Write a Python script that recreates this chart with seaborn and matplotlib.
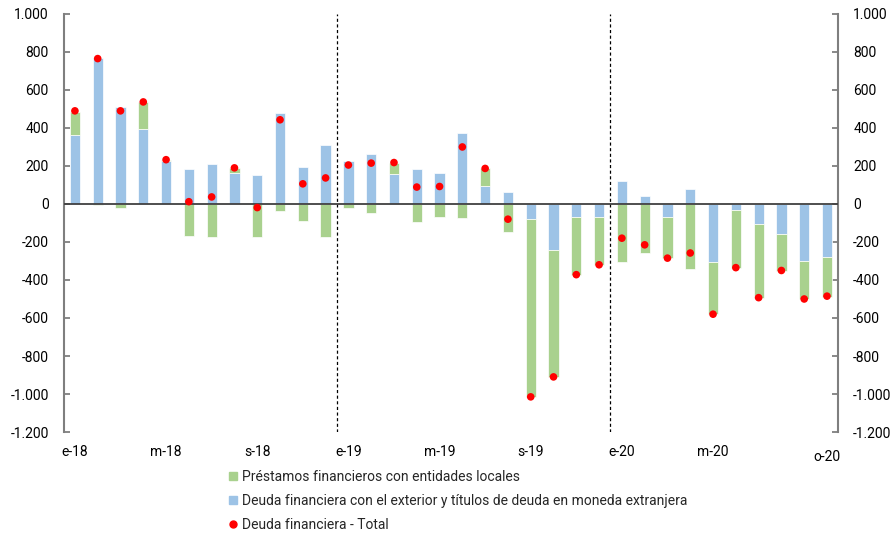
import numpy as np
import matplotlib
matplotlib.use("Agg")
import matplotlib.pyplot as plt
import matplotlib.transforms as mtransforms
from matplotlib.lines import Line2D
from matplotlib.ticker import FuncFormatter
import seaborn as sns

# Datos (millones), ene-2018 a oct-2020
months = ['e-18', 'f-18', 'm-18', 'a-18', 'm-18', 'j-18', 'j-18', 'a-18', 's-18', 'o-18', 'n-18', 'd-18',
          'e-19', 'f-19', 'm-19', 'a-19', 'm-19', 'j-19', 'j-19', 'a-19', 's-19', 'o-19', 'n-19', 'd-19',
          'e-20', 'f-20', 'm-20', 'a-20', 'm-20', 'j-20', 'j-20', 'a-20', 's-20', 'o-20']
blue = [365, 770, 510, 397, 228, 182, 212, 165, 153, 478, 196, 312,
        225, 262, 160, 186, 162, 372, 97, 65, -80, -240, -67, -67,
        123, 42, -70, 80, -305, -30, -105, -157, -302, -277]
green = [120, -5, -20, 140, 5, -170, -175, 25, -172, -35, -90, -175,
         -20, -47, 58, -97, -70, -72, 90, -145, -935, -670, -305, -255,
         -305, -258, -215, -340, -275, -305, -390, -195, -200, -210]
total = [490, 765, 490, 537, 233, 12, 37, 190, -19, 443, 106, 137,
         205, 215, 218, 89, 92, 300, 187, -80, -1015, -910, -372, -320,
         -180, -215, -285, -258, -580, -335, -493, -350, -500, -485]
shown_ticks = [0, 4, 8, 12, 16, 20, 24, 28, 33]
labels = ['Préstamos financieros con entidades locales',
          'Deuda financiera con el exterior y títulos de deuda en moneda extranjera',
          'Deuda financiera - Total']

GREEN = '#A9D18E'
BLUE = '#9DC3E6'
RED = '#FF0000'

sns.set_style("white")
plt.rcParams['font.family'] = ['Roboto', 'DejaVu Sans']

idx = np.arange(len(months))
blue_a = np.array(blue)
green_a = np.array(green)
# verde apilado sobre azul cuando tienen el mismo signo
bottom = np.where(np.sign(green_a) == np.sign(blue_a), blue_a, 0)

fig = plt.figure(figsize=(8.96, 5.36), dpi=100)
ax = fig.add_axes([0.0714, 0.194, 0.8638, 0.780])

sns.barplot(x=idx, y=blue, color=BLUE, saturation=1, width=0.45,
            edgecolor='white', linewidth=0.5, ax=ax, zorder=2)
ax.bar(idx, green_a, bottom=bottom, width=0.45, color=GREEN,
       edgecolor='white', linewidth=0.5, zorder=2)
sns.scatterplot(x=idx, y=total, color=RED, s=30, edgecolor='none', ax=ax, zorder=5)

ax.axhline(0, color='#404040', lw=1.3, zorder=3)
for xv in [11.5, 23.5]:
    ax.axvline(xv, color='black', ls=(0, (2.5, 2)), lw=0.9, zorder=1)

ax.set_xlim(-0.48, 33.48)
ax.set_ylim(-1200, 1000)
ax.set_yticks(np.arange(-1200, 1001, 200))
ax.yaxis.set_major_formatter(FuncFormatter(lambda v, p: f"{int(v):,}".replace(',', '.')))
ax.set_xticks(shown_ticks)
ax.set_xticklabels([months[i] for i in shown_ticks])
ax.set_xlabel('')
ax.set_ylabel('')

for s in ['top', 'bottom']:
    ax.spines[s].set_visible(False)
for s in ['left', 'right']:
    ax.spines[s].set_color('#7f7f7f')
    ax.spines[s].set_linewidth(1.5)

ax.tick_params(axis='y', left=True, right=True, labelleft=True, labelright=True,
               direction='in', length=4.5, width=1.3, color='#7f7f7f',
               labelsize=10, labelcolor='black', pad=11)
ax.tick_params(axis='x', bottom=False, labelsize=10, labelcolor='black', pad=6)

# la última etiqueta (o-20) va un poco más abajo
last = ax.get_xticklabels()[-1]
last.set_transform(last.get_transform() + mtransforms.ScaledTranslation(0, -3.5 / 72, fig.dpi_scale_trans))

handles = [Line2D([], [], marker='s', ls='', color=GREEN, markersize=6),
           Line2D([], [], marker='s', ls='', color=BLUE, markersize=6),
           Line2D([], [], marker='o', ls='', color=RED, markersize=5)]
fig.legend(handles, labels, loc='upper left', bbox_to_anchor=(0.248, 0.133),
           frameon=False, fontsize=10, handlelength=0.7, handletextpad=0.3,
           labelspacing=0.72, borderaxespad=0)

fig.savefig('out.png', dpi=100)
